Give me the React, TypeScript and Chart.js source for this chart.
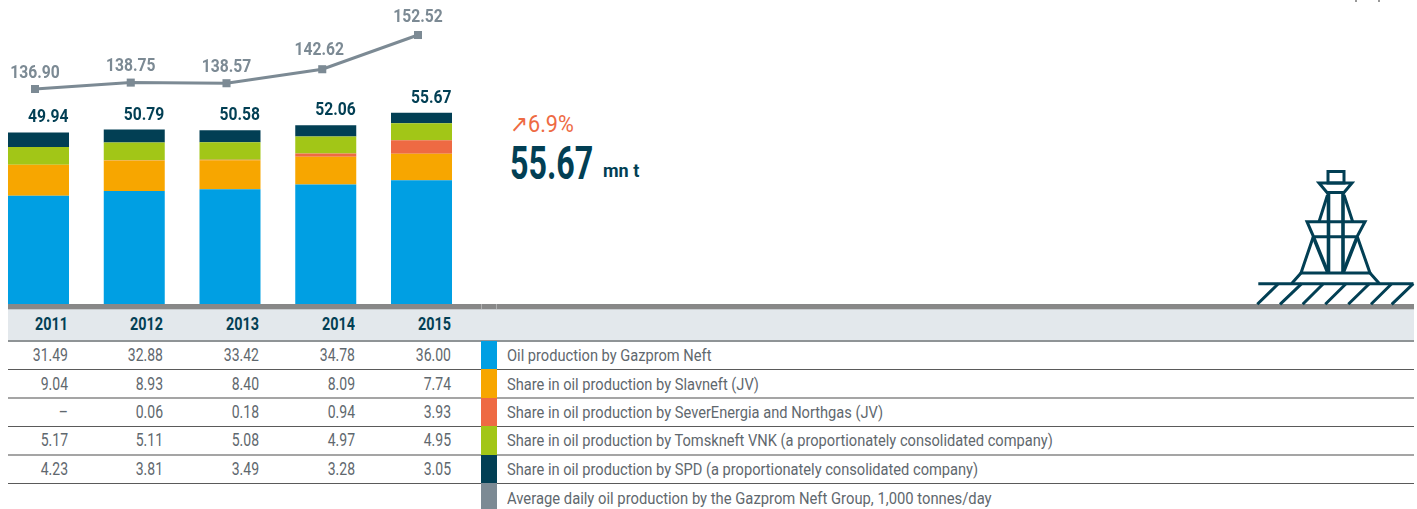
import React, { useEffect, useRef } from "react";
import { Chart, registerables } from "chart.js";

Chart.register(...registerables);

const years = [2011, 2012, 2013, 2014, 2015];
const gazprom = [31.49, 32.88, 33.42, 34.78, 36.0];
const slavneft = [9.04, 8.93, 8.4, 8.09, 7.74];
const severEnergia = [0, 0.06, 0.18, 0.94, 3.93];
const tomskneft = [5.17, 5.11, 5.08, 4.97, 4.95];
const spd = [4.23, 3.81, 3.49, 3.28, 3.05];
const totals = ["49.94", "50.79", "50.58", "52.06", "55.67"];
const dailyAverage = [136.9, 138.75, 138.57, 142.62, 152.52];

const BLUE = "#009fe3";
const ORANGE = "#f7a600";
const CORAL = "#ee6a43";
const GREEN = "#a2c617";
const NAVY = "#023f54";
const GREY = "#7c8a94";
const TEXT = "#5f686e";
const FONT = 'Roboto, "Noto Sans", sans-serif';

const fmt = (v: number) => v.toFixed(2);
const rows = [
  { label: "Oil production by Gazprom Neft", color: BLUE, cells: gazprom.map(fmt) },
  { label: "Share in oil production by Slavneft (JV)", color: ORANGE, cells: slavneft.map(fmt) },
  {
    label: "Share in oil production by SeverEnergia and Northgas (JV)",
    color: CORAL,
    cells: severEnergia.map((v) => (v === 0 ? "–" : fmt(v))),
  },
  {
    label: "Share in oil production by Tomskneft VNK (a proportionately consolidated company)",
    color: GREEN,
    cells: tomskneft.map(fmt),
  },
  {
    label: "Share in oil production by SPD (a proportionately consolidated company)",
    color: NAVY,
    cells: spd.map(fmt),
  },
];
const lineLegend = "Average daily oil production by the Gazprom Neft Group, 1,000 tonnes/day";

const rowTops = [341, 369.5, 398, 426, 454.5];
const rowLines = [
  { y: 369, h: 1, c: "#5a5a5a" },
  { y: 397, h: 2, c: "#a5a5a5" },
  { y: 426, h: 1, c: "#5a5a5a" },
  { y: 454, h: 2, c: "#a5a5a5" },
  { y: 483, h: 1, c: "#5a5a5a" },
];
const cellRight = [67.5, 163, 259, 355, 451];
const lineLabelLift = [15.5, 16, 16, 19, 17.5];
const lineLabelShift = [0, 0, 0, -3, 0];

const labelPlugin = {
  id: "valueLabels",
  afterDatasetsDraw(chart: any) {
    const { ctx, scales } = chart;
    const put = (text: string, x: number, y: number) => {
      ctx.save();
      ctx.translate(x, y);
      ctx.scale(0.87, 1);
      ctx.fillText(text, 0, 0);
      ctx.restore();
    };
    ctx.save();
    ctx.textBaseline = "middle";
    ctx.font = `bold 18px ${FONT}`;
    ctx.fillStyle = NAVY;
    ctx.textAlign = "right";
    years.forEach((year, i) => {
      const stackTop =
        gazprom[i] + slavneft[i] + severEnergia[i] + tomskneft[i] + spd[i];
      put(totals[i], scales.x.getPixelForValue(year) + 30, scales.y.getPixelForValue(stackTop) - 14.5);
    });
    ctx.fillStyle = GREY;
    ctx.textAlign = "center";
    years.forEach((year, i) => {
      put(
        fmt(dailyAverage[i]),
        scales.xLine.getPixelForValue(year) + lineLabelShift[i],
        scales.yLine.getPixelForValue(dailyAverage[i]) - lineLabelLift[i]
      );
    });
    ctx.restore();
  },
};

function Buoy() {
  const s = { stroke: NAVY, strokeWidth: 3, fill: "none" };
  return (
    <svg
      width={1417}
      height={509}
      style={{ position: "absolute", left: 0, top: 0, pointerEvents: "none" }}
    >
      <g {...s}>
        <rect x={1328} y={171.5} width={16} height={11.5} />
        <path d="M1319 183H1352L1344 192.5H1327Z" />
        <path d="M1327.5 195L1319 221.7M1344 195L1352.7 221.7" />
        <path d="M1328.5 193V273M1343 193V273" strokeWidth={3.6} />
        <path d="M1307 221.7H1365L1357 236.7H1313.5Z" />
        <path d="M1313.3 236.7L1301 273H1370L1357.3 236.7" />
        <path d="M1313.3 236.7L1328 273M1357.3 236.7L1343 273" strokeWidth={3.6} />
        <path d="M1301 273L1291.7 283.5M1370 273L1379.3 283.5" />
        <path d="M1258.3 283.7H1413.5" />
        <path d="M1278.3 283.7L1257.3 304.3M1301.7 283.7L1280 304.3M1323.3 283.7L1302.7 304.3M1346 283.7L1325.3 304.3M1369.3 283.7L1348.3 304.3M1391.7 283.7L1371 304.3M1413.3 283.7L1391.7 304.3" />
      </g>
    </svg>
  );
}

export default function App() {
  const ref = useRef<HTMLCanvasElement>(null);

  useEffect(() => {
    const pxPerYear = 95.75;
    const toPts = (arr: number[]) => arr.map((y, i) => ({ x: years[i], y }));
    const bar = (label: string, data: number[], color: string) => ({
      type: "bar" as const,
      label,
      data: toPts(data),
      backgroundColor: color,
      grouped: false,
      barPercentage: 0.99,
      categoryPercentage: 1,
      maxBarThickness: 61,
      xAxisID: "x",
      yAxisID: "y",
      stack: "oil",
      order: 2,
    });
    const xMin = 2011 - 38.5 / pxPerYear;
    const xMax = xMin + 1417 / pxPerYear;
    const lineShift = 3.5 / pxPerYear;
    const yMaxBars = 304 / 3.435;
    const yLineMax = 136.9 + 89 / 3.457;
    const yLineMin = yLineMax - 304 / 3.457;
    const chart = new Chart(ref.current!, {
      data: {
        datasets: [
          bar(rows[0].label, gazprom, BLUE),
          bar(rows[1].label, slavneft, ORANGE),
          bar(rows[2].label, severEnergia, CORAL),
          bar(rows[3].label, tomskneft, GREEN),
          bar(rows[4].label, spd, NAVY),
          {
            type: "line" as const,
            label: lineLegend,
            data: toPts(dailyAverage),
            borderColor: GREY,
            backgroundColor: GREY,
            borderWidth: 3,
            pointStyle: "rect",
            pointRadius: 5.7,
            pointBorderWidth: 0,
            tension: 0,
            xAxisID: "xLine",
            yAxisID: "yLine",
            order: 1,
          },
        ],
      } as any,
      options: {
        animation: false,
        responsive: false,
        layout: { autoPadding: false, padding: 0 },
        plugins: { legend: { display: false }, tooltip: { enabled: false } },
        scales: {
          x: { type: "linear", min: xMin, max: xMax, display: false, stacked: true, offset: false },
          xLine: { type: "linear", min: xMin + lineShift, max: xMax + lineShift, display: false, offset: false },
          y: { min: 0, max: yMaxBars, display: false, stacked: true },
          yLine: { min: yLineMin, max: yLineMax, display: false },
        },
      },
      plugins: [labelPlugin],
    } as any);
    return () => chart.destroy();
  }, []);

  const abs = (o: React.CSSProperties): React.CSSProperties => ({ position: "absolute", ...o });
  const narrow = (sx: number, origin = "left center"): React.CSSProperties => ({
    transform: `scaleX(${sx})`,
    transformOrigin: origin,
  });

  return (
    <div
      style={{
        position: "absolute",
        left: 0,
        top: 0,
        width: 1417,
        height: 509,
        overflow: "hidden",
        background: "#fff",
        fontFamily: FONT,
      }}
    >
      <div style={abs({ left: 1355, top: 0, width: 2, height: 2, background: "#999" })} />
      <div style={abs({ left: 1378, top: 0, width: 2, height: 2, background: "#999" })} />
      <div style={abs({ left: 8, top: 304, width: 1406, height: 5, background: "#888888" })} />
      <div style={abs({ left: 481, top: 304, width: 1, height: 5, background: "#b0b0b0" })} />
      <div style={abs({ left: 496, top: 304, width: 1, height: 5, background: "#b0b0b0" })} />
      <div style={abs({ left: 8, top: 309, width: 1406, height: 32, background: "#e3e8ec" })} />
      <div style={abs({ left: 8, top: 309, width: 1406, height: 1, background: "#c8cccf" })} />
      <div style={abs({ left: 8, top: 340, width: 1406, height: 2, background: "#8f9496" })} />
      {years.map((y, i) => (
        <div
          key={y}
          style={abs({
            left: cellRight[i] - 60,
            width: 60,
            top: 308,
            height: 32,
            lineHeight: "32px",
            textAlign: "right",
            fontSize: 18,
            fontWeight: 700,
            color: NAVY,
            ...narrow(0.8, "right center"),
          })}
        >
          {y}
        </div>
      ))}
      {rowLines.map((l) => (
        <div key={l.y} style={abs({ left: 8, top: l.y, width: 1406, height: l.h, background: l.c })} />
      ))}
      {rows.map((r, ri) => (
        <React.Fragment key={r.label}>
          {r.cells.map((c, i) => (
            <div
              key={i}
              style={abs({
                left: cellRight[i] - 60,
                width: 60,
                top: rowTops[ri],
                height: 28,
                lineHeight: "28px",
                textAlign: "right",
                fontSize: 17.5,
                color: TEXT,
                ...narrow(0.8, "right center"),
              })}
            >
              {c}
            </div>
          ))}
          <div style={abs({ left: 481, top: 341 + ri * 28.4, width: 16, height: 28.4, background: r.color })} />
          <div
            style={abs({
              left: 507,
              top: rowTops[ri],
              height: 28,
              lineHeight: "28px",
              fontSize: 17,
              color: TEXT,
              whiteSpace: "nowrap",
              ...narrow(0.861),
            })}
          >
            {r.label}
          </div>
        </React.Fragment>
      ))}
      <div style={abs({ left: 481, top: 483, width: 16, height: 26, background: GREY })} />
      <div
        style={abs({
          left: 507,
          top: 483.5,
          height: 28,
          lineHeight: "28px",
          fontSize: 17,
          color: TEXT,
          whiteSpace: "nowrap",
          ...narrow(0.87),
        })}
      >
        {lineLegend}
      </div>
      <div style={abs({ left: 510, top: 110, fontSize: 24, lineHeight: "28px", color: CORAL, ...narrow(0.9) })}>
        ↗6.9%
      </div>
      <div
        style={abs({
          left: 510,
          top: 138,
          fontSize: 46,
          lineHeight: "50px",
          fontWeight: 700,
          color: NAVY,
          ...narrow(0.7),
        })}
      >
        55.67
      </div>
      <div
        style={abs({ left: 603, top: 160, fontSize: 18, lineHeight: "22px", fontWeight: 700, color: NAVY })}
      >
        mn t
      </div>
      <canvas ref={ref} width={1417} height={304} style={abs({ left: 0, top: 0, display: "block" })} />
      <Buoy />
    </div>
  );
}
